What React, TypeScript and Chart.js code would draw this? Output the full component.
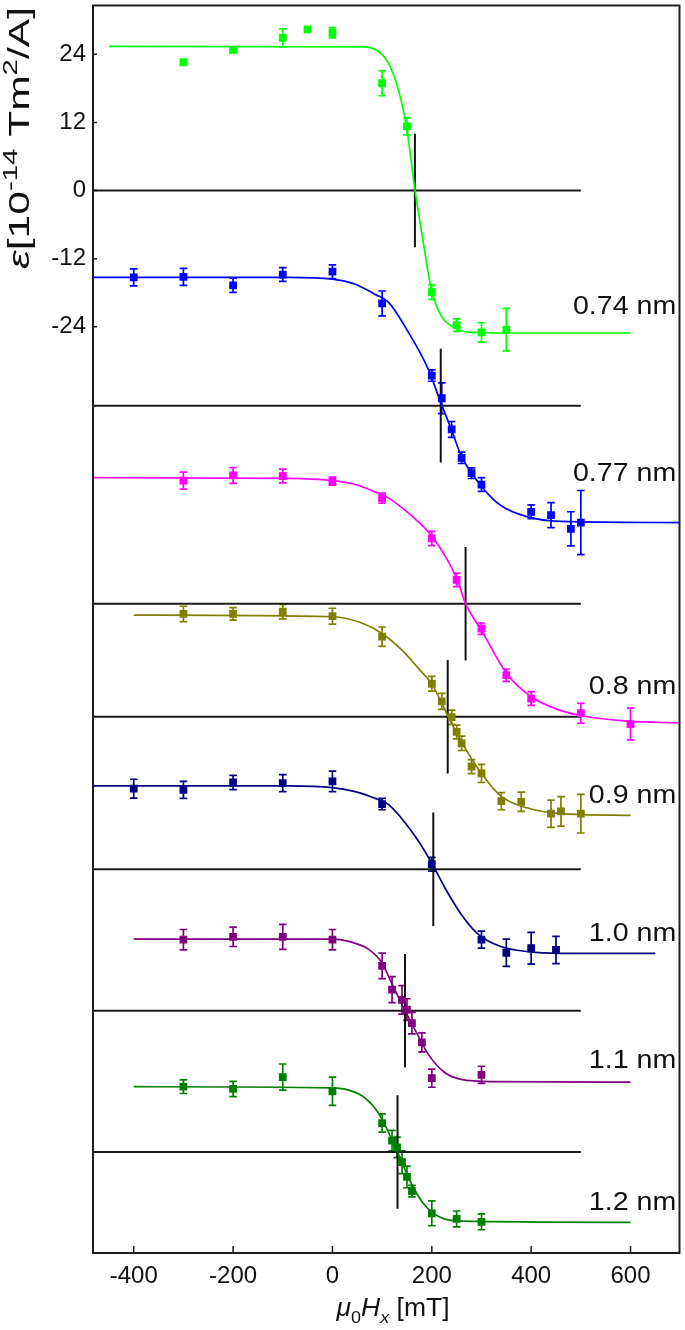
import React, { useEffect, useRef } from 'react';
import { Chart, registerables } from 'chart.js';

Chart.register(...registerables);

const FONT = "'Liberation Sans', Arial, sans-serif";

// Axis ranges and ticks
const X_MIN = -482;
const X_MAX = 698.6;
const Y_MIN = -187.2;
const Y_MAX = 32.6;
const X_TICKS = [-400, -200, 0, 200, 400, 600];
const Y_TICKS = [24, 12, 0, -12, -24];

// Labels and series colours
const LABELS = ['0.74 nm', '0.77 nm', '0.8 nm', '0.9 nm', '1.0 nm', '1.1 nm', '1.2 nm'];
const COLORS = ['#00ff00', '#0000ff', '#ff00ff', '#808000', '#000080', '#800080', '#008000'];
const LABEL_Y = [-20.1, -49.6, -87.1, -106.2, -130.5, -153.0, -177.9];
const LABEL_X = 692;

// Reference (zero) lines of each offset curve and the crossing markers
const BASELINES = [0, -37.9, -72.8, -92.7, -119.6, -144.5, -169.4];
const BASE_X = [-482, 500];
const VLINE_X = [166, 218, 268, 232, 203, 146, 131];
const VLINE_HALF = 10;

// 0.74 nm
const FIELD_074 = [-300, -200, -100, -50, 0, 100, 150, 200, 250, 300, 350];
const EPS_074 = [22.6, 24.8, 26.9, 28.4, 27.8, 18.9, 11.3, -17.9, -23.7, -25.0, -24.5];
const ERR_074 = [0, 0.5, 1.6, 0, 0.9, 2.2, 1.5, 1.3, 1.1, 1.7, 3.75];
const FIT_X_074 = [-450, 60, 93, 113, 133, 149, 166, 183, 199, 219, 246, 279, 340, 600];
const FIT_Y_074 = [25.4, 25.3, 24.5, 22.4, 17.7, 11.3, 0.2, -9.2, -17.4, -22.1, -24.2, -25.0, -25.1, -25.1];

// 0.77 nm
const FIELD_077 = [-400, -300, -200, -100, 0, 100, 200, 220, 240, 260, 280, 300, 400, 440, 480, 500];
const EPS_077 = [-15.3, -15.2, -16.7, -14.8, -14.3, -19.9, -32.6, -36.6, -42.1, -47.1, -49.8, -51.8, -56.6, -57.2, -59.6, -58.5];
const ERR_077 = [1.5, 1.5, 1.26, 1.2, 1.2, 2.2, 1.0, 2.7, 1.4, 1.0, 0.94, 1.2, 1.2, 2.2, 3.0, 5.65];
const FIT_X_077 = [-482, -87, 0, 46, 86, 113, 153, 193, 219, 239, 259, 299, 339, 393, 459, 699];
const FIT_Y_077 = [-15.3, -15.3, -15.6, -16.5, -18.3, -19.7, -25.0, -31.5, -37.6, -42.0, -46.7, -52.0, -55.5, -57.5, -58.3, -58.5];

// 0.8 nm
const FIELD_08 = [-300, -200, -100, 0, 100, 200, 250, 300, 350, 400, 500, 600];
const EPS_08 = [-51.1, -50.2, -50.3, -51.2, -54.2, -61.3, -68.6, -77.2, -85.4, -89.5, -92.1, -94.0];
const ERR_08 = [1.5, 1.4, 1.2, 0.7, 0.9, 1.26, 1.2, 1.0, 1.1, 1.2, 1.76, 2.8];
const FIT_X_08 = [-482, -87, 0, 46, 86, 113, 159, 201, 250, 268, 300, 350, 400, 459, 500, 593, 699];
const FIT_Y_08 = [-50.6, -50.7, -51.1, -51.8, -53.1, -54.2, -57.3, -61.0, -68.3, -72.8, -77.5, -85.0, -89.2, -91.6, -92.5, -93.5, -93.8];

// 0.9 nm
const FIELD_09 = [-300, -200, -100, 0, 100, 200, 220, 240, 250, 260, 280, 300, 340, 380, 440, 460, 500];
const EPS_09 = [-74.6, -74.6, -74.2, -75.0, -78.6, -86.9, -90.0, -92.8, -95.4, -97.4, -101.5, -102.7, -107.6, -107.7, -109.8, -109.4, -109.8];
const ERR_09 = [1.35, 1.1, 1.26, 1.4, 1.7, 1.3, 1.4, 1.26, 1.2, 1.26, 1.23, 1.6, 1.5, 1.7, 2.4, 2.6, 3.4];
const FIT_X_09 = [-400, 0, 59, 99, 139, 173, 201, 232, 259, 299, 339, 393, 459, 600];
const FIT_Y_09 = [-74.8, -75.1, -76.2, -78.0, -80.9, -84.2, -87.1, -92.5, -97.0, -102.6, -106.7, -108.8, -109.8, -110.1];

// 1.0 nm
const FIELD_10 = [-400, -300, -200, -100, 0, 100, 200, 300, 350, 400, 450];
const EPS_10 = [-105.4, -105.6, -104.3, -104.4, -104.1, -108.1, -118.7, -132.0, -134.3, -133.5, -133.8];
const ERR_10 = [1.67, 1.5, 1.26, 1.5, 1.8, 1.0, 1.2, 1.5, 2.4, 2.8, 2.4];
const FIT_X_10 = [-482, -87, 0, 46, 86, 113, 173, 201, 226, 259, 293, 339, 393, 459, 650];
const FIT_Y_10 = [-104.9, -104.9, -105.2, -105.9, -107.1, -108.2, -114.6, -118.7, -122.8, -127.5, -131.0, -133.2, -134.1, -134.4, -134.4];

// 1.1 nm
const FIELD_11 = [-300, -200, -100, 0, 100, 120, 140, 150, 160, 180, 200, 300];
const EPS_11 = [-132.0, -131.5, -131.5, -132.0, -136.6, -140.8, -142.6, -144.3, -146.7, -150.1, -156.4, -155.8];
const ERR_11 = [1.8, 1.7, 2.2, 1.8, 2.25, 2.3, 2.5, 1.9, 1.9, 1.67, 1.6, 1.5];
const FIT_X_11 = [-400, 0, 33, 73, 99, 119, 146, 173, 193, 226, 259, 326, 600];
const FIT_Y_11 = [-131.9, -131.9, -132.3, -133.7, -136.0, -139.6, -144.5, -149.0, -152.2, -155.4, -156.6, -157.0, -157.1];

// 1.2 nm
const FIELD_12 = [-300, -200, -100, 0, 100, 120, 130, 140, 150, 160, 200, 250, 300];
const EPS_12 = [-157.9, -158.3, -156.2, -158.7, -164.3, -167.4, -168.6, -171.2, -173.8, -176.3, -180.2, -181.2, -181.7];
const ERR_12 = [1.2, 1.35, 2.3, 2.5, 1.6, 1.8, 1.8, 2.0, 1.9, 1.0, 2.2, 1.4, 1.4];
const FIT_X_12 = [-400, 0, 33, 66, 93, 131, 159, 186, 219, 259, 600];
const FIT_Y_12 = [-157.9, -158.1, -158.5, -159.9, -162.6, -169.4, -175.0, -178.8, -181.0, -181.6, -181.8];

const FIELDS = [FIELD_074, FIELD_077, FIELD_08, FIELD_09, FIELD_10, FIELD_11, FIELD_12];
const EPSS = [EPS_074, EPS_077, EPS_08, EPS_09, EPS_10, EPS_11, EPS_12];
const ERRS = [ERR_074, ERR_077, ERR_08, ERR_09, ERR_10, ERR_11, ERR_12];
const FIT_XS = [FIT_X_074, FIT_X_077, FIT_X_08, FIT_X_09, FIT_X_10, FIT_X_11, FIT_X_12];
const FIT_YS = [FIT_Y_074, FIT_Y_077, FIT_Y_08, FIT_Y_09, FIT_Y_10, FIT_Y_11, FIT_Y_12];

type Part = { t: string; italic?: boolean; sub?: boolean; sup?: boolean };

function drawRich(ctx: CanvasRenderingContext2D, parts: Part[], size: number, targetWidth: number) {
  const fontFor = (p: Part) => {
    const s = p.sub || p.sup ? Math.round(size * 0.68) : size;
    return `${p.italic ? 'italic ' : ''}${s}px ${FONT}`;
  };
  const widths = parts.map((p) => {
    ctx.font = fontFor(p);
    return ctx.measureText(p.t).width;
  });
  const total = widths.reduce((a, b) => a + b, 0);
  const sx = targetWidth / total;
  ctx.save();
  ctx.scale(sx, 1);
  let cx = -total / 2;
  parts.forEach((p, i) => {
    ctx.font = fontFor(p);
    const dy = p.sub ? size * 0.28 : p.sup ? -size * 0.42 : 0;
    ctx.fillText(p.t, cx, dy);
    cx += widths[i];
  });
  ctx.restore();
}

const overlayPlugin = {
  id: 'overlay',
  beforeDatasetsDraw(chart: any) {
    const { ctx, scales } = chart;
    const x = scales.x;
    const y = scales.y;
    ctx.save();
    ctx.lineWidth = 1.7;
    FIELDS.forEach((field, si) => {
      ctx.strokeStyle = COLORS[si];
      field.forEach((f, i) => {
        const e = ERRS[si][i];
        if (!e) return;
        const px = x.getPixelForValue(f);
        const y1 = y.getPixelForValue(EPSS[si][i] + e);
        const y2 = y.getPixelForValue(EPSS[si][i] - e);
        ctx.beginPath();
        ctx.moveTo(px, y1);
        ctx.lineTo(px, y2);
        ctx.moveTo(px - 3.8, y1);
        ctx.lineTo(px + 3.8, y1);
        ctx.moveTo(px - 3.8, y2);
        ctx.lineTo(px + 3.8, y2);
        ctx.stroke();
      });
    });
    ctx.restore();
  },
  afterDraw(chart: any) {
    const { ctx, chartArea, scales } = chart;
    const x = scales.x;
    const y = scales.y;
    ctx.save();
    // frame
    ctx.strokeStyle = '#1e1e1e';
    ctx.lineWidth = 2;
    ctx.strokeRect(chartArea.left, chartArea.top, chartArea.right - chartArea.left, chartArea.bottom - chartArea.top);
    // tick marks (inside)
    ctx.lineWidth = 1.5;
    ctx.beginPath();
    X_TICKS.forEach((v) => {
      const px = x.getPixelForValue(v);
      ctx.moveTo(px, chartArea.bottom);
      ctx.lineTo(px, chartArea.bottom - 7);
    });
    Y_TICKS.forEach((v) => {
      const py = y.getPixelForValue(v);
      ctx.moveTo(chartArea.left, py);
      ctx.lineTo(chartArea.left + 4, py);
    });
    ctx.stroke();

    // series labels
    ctx.fillStyle = '#111';
    ctx.textBaseline = 'alphabetic';
    LABELS.forEach((lab, i) => {
      const size = 26;
      ctx.font = `${size}px ${FONT}`;
      const px = x.getPixelForValue(LABEL_X);
      const py = y.getPixelForValue(LABEL_Y[i]);
      ctx.save();
      ctx.translate(px, py + (size * 0.716) / 2);
      ctx.scale(1.1, 1);
      ctx.textAlign = 'right';
      ctx.fillText(lab, 0, 0);
      ctx.restore();
    });

    // x title
    ctx.textAlign = 'left';
    ctx.save();
    ctx.translate(393, 1316);
    drawRich(ctx, [
      { t: 'μ', italic: true },
      { t: '0', sub: true },
      { t: 'H', italic: true },
      { t: 'x', italic: true, sub: true },
      { t: ' [mT]' },
    ], 25, 113);
    ctx.restore();

    // y title
    ctx.save();
    ctx.translate(29, 138);
    ctx.rotate(-Math.PI / 2);
    drawRich(ctx, [
      { t: 'ε', italic: true },
      { t: '[10' },
      { t: '-14', sup: true },
      { t: ' Tm' },
      { t: '2', sup: true },
      { t: '/A]' },
    ], 29, 262);
    ctx.restore();
    ctx.restore();
  },
};

export default function App() {
  const canvasRef = useRef<HTMLCanvasElement | null>(null);

  useEffect(() => {
    const canvas = canvasRef.current;
    if (!canvas) return;
    const datasets: any[] = [];
    FIELDS.forEach((field, si) => {
      datasets.push({
        type: 'scatter',
        data: field.map((f, i) => ({ x: f, y: EPSS[si][i] })),
        backgroundColor: COLORS[si],
        borderColor: COLORS[si],
        borderWidth: 0,
        pointStyle: 'rect',
        pointRadius: 5.5,
        showLine: false,
        order: 0,
      });
    });
    FIT_XS.forEach((fx, si) => {
      datasets.push({
        type: 'line',
        data: fx.map((v, i) => ({ x: v, y: FIT_YS[si][i] })),
        borderColor: COLORS[si],
        borderWidth: 1.7,
        pointRadius: 0,
        fill: false,
        cubicInterpolationMode: 'monotone',
        order: 1,
      });
    });
    BASELINES.forEach((b, si) => {
      datasets.push({
        type: 'line',
        data: [{ x: BASE_X[0], y: b }, { x: BASE_X[1], y: b }],
        borderColor: '#1a1a1a',
        borderWidth: 2,
        pointRadius: 0,
        fill: false,
        order: 2,
      });
      datasets.push({
        type: 'line',
        data: [{ x: VLINE_X[si], y: b + VLINE_HALF }, { x: VLINE_X[si], y: b - VLINE_HALF }],
        borderColor: '#111',
        borderWidth: 2,
        pointRadius: 0,
        fill: false,
        order: 2,
      });
    });

    const chart = new Chart(canvas, {
      type: 'line',
      data: { datasets },
      options: {
        responsive: false,
        animation: false,
        events: [],
        layout: { padding: { top: 2, right: 2, left: 0, bottom: 0 } },
        plugins: { legend: { display: false }, tooltip: { enabled: false }, title: { display: false } },
        scales: {
          x: {
            type: 'linear',
            min: X_MIN,
            max: X_MAX,
            afterBuildTicks: (s: any) => { s.ticks = X_TICKS.map((v) => ({ value: v })); },
            afterFit: (s: any) => { s.height = 77; s.paddingLeft = 0; s.paddingRight = 0; },
            grid: { display: false, drawTicks: false },
            border: { display: false },
            ticks: {
              autoSkip: false,
              maxRotation: 0,
              padding: 9,
              color: '#111',
              font: { family: FONT, size: 24 },
              callback: (v: any) => String(v),
            },
          },
          y: {
            type: 'linear',
            min: Y_MIN,
            max: Y_MAX,
            afterBuildTicks: (s: any) => { s.ticks = Y_TICKS.map((v) => ({ value: v })); },
            afterFit: (s: any) => { s.width = 93; s.paddingTop = 0; s.paddingBottom = 0; },
            grid: { display: false, drawTicks: false },
            border: { display: false },
            ticks: {
              autoSkip: false,
              padding: 7,
              color: '#111',
              font: { family: FONT, size: 24 },
              callback: (v: any) => String(v),
            },
          },
        },
      },
      plugins: [overlayPlugin],
    } as any);
    return () => chart.destroy();
  }, []);

  return (
    <div style={{ position: 'absolute', left: 0, top: 0, width: 685, height: 1330, background: '#fff' }}>
      <canvas ref={canvasRef} width={685} height={1330} style={{ width: 685, height: 1330, display: 'block' }} />
    </div>
  );
}
